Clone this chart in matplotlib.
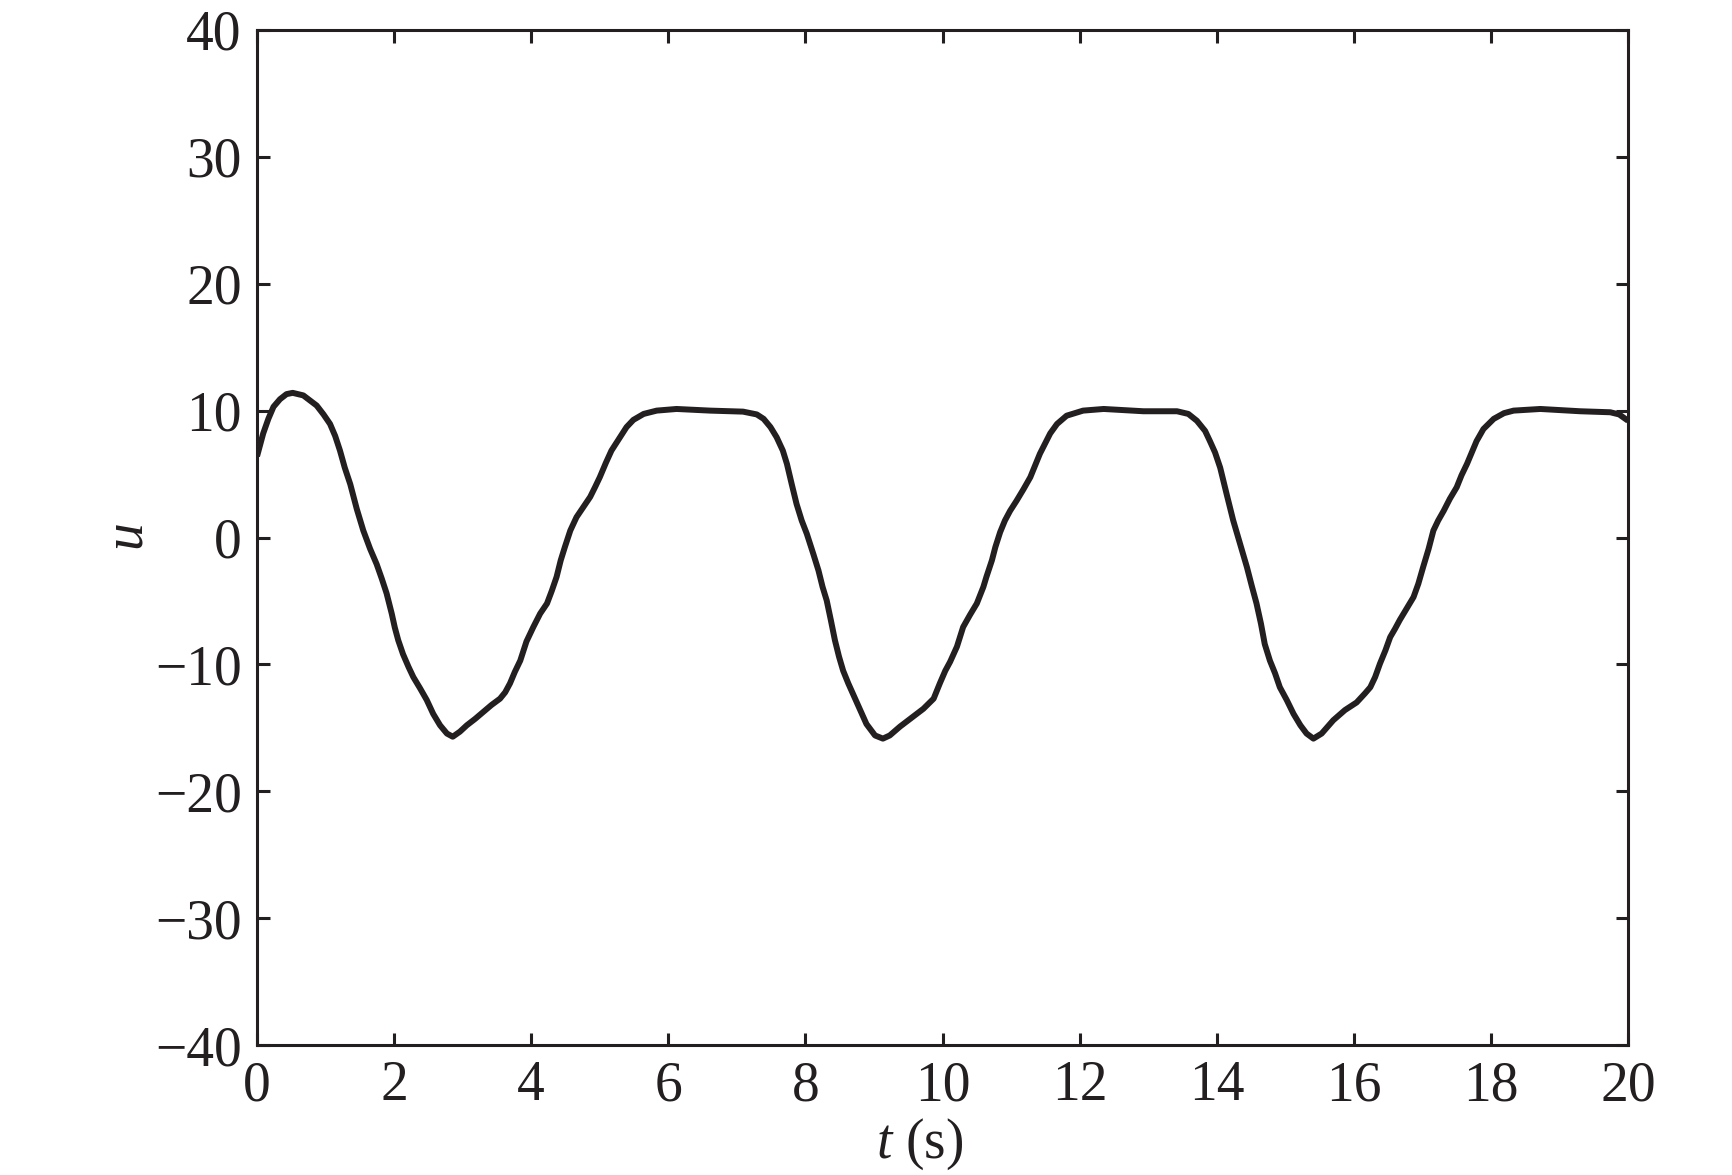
import matplotlib
matplotlib.use("Agg")
import matplotlib.pyplot as plt

# values (t in s, u)
t = [0.00, 0.09, 0.165, 0.24, 0.335, 0.43, 0.52, 0.675, 0.87, 0.97,
     1.065, 1.14, 1.21, 1.28, 1.36, 1.455, 1.55, 1.65, 1.745, 1.82,
     1.89, 1.965, 2.01, 2.06, 2.13, 2.21, 2.28, 2.38, 2.475, 2.57,
     2.67, 2.77, 2.855, 2.96, 3.06, 3.18, 3.30, 3.42, 3.545, 3.62,
     3.69, 3.76, 3.84, 3.93, 4.03, 4.13, 4.23, 4.30, 4.37, 4.43,
     4.49, 4.57, 4.66, 4.76, 4.86, 4.93, 5.00, 5.09, 5.17, 5.295,
     5.39, 5.49, 5.64, 5.83, 6.12, 6.61, 7.09, 7.29, 7.39, 7.49,
     7.58, 7.67, 7.73, 7.80, 7.87, 7.945, 8.02, 8.115, 8.19, 8.25,
     8.31, 8.37, 8.43, 8.49, 8.55, 8.625, 8.70, 8.80, 8.89, 9.015,
     9.13, 9.23, 9.38, 9.55, 9.72, 9.87, 9.96, 10.04, 10.11, 10.21,
     10.30, 10.40, 10.50, 10.595, 10.64, 10.72, 10.77, 10.84, 10.91, 10.985,
     11.08, 11.18, 11.28, 11.35, 11.42, 11.495, 11.57, 11.67, 11.81, 12.05,
     12.35, 12.93, 13.42, 13.585, 13.71, 13.83, 13.90, 13.975, 14.05, 14.145,
     14.24, 14.34, 14.44, 14.51, 14.58, 14.645, 14.70, 14.775, 14.85, 14.92,
     15.02, 15.12, 15.22, 15.31, 15.41, 15.53, 15.70, 15.87, 16.04, 16.16,
     16.24, 16.31, 16.38, 16.46, 16.53, 16.60, 16.67, 16.77, 16.87, 16.94,
     17.01, 17.09, 17.16, 17.23, 17.31, 17.40, 17.50, 17.57, 17.65, 17.72,
     17.79, 17.89, 18.04, 18.19, 18.33, 18.72, 19.30, 19.74, 19.87, 20.00]
u = [6.4, 8.2, 9.35, 10.3, 10.9, 11.3, 11.4, 11.2, 10.4, 9.7,
     8.95, 8.0, 6.85, 5.5, 4.2, 2.25, 0.55, -0.9, -2.1, -3.25,
     -4.4, -6.0, -7.1, -8.1, -9.2, -10.2, -11.0, -11.9, -12.8, -13.9,
     -14.8, -15.45, -15.7, -15.3, -14.8, -14.3, -13.75, -13.2, -12.7, -12.2,
     -11.5, -10.6, -9.7, -8.2, -7.06, -6.0, -5.2, -4.2, -3.1, -1.8,
     -0.76, 0.55, 1.6, 2.4, 3.2, 3.96, 4.75, 5.9, 6.85, 7.9,
     8.7, 9.27, 9.74, 10.0, 10.13, 10.0, 9.92, 9.7, 9.35, 8.7,
     7.9, 6.85, 5.8, 4.2, 2.65, 1.34, 0.29, -1.3, -2.6, -3.9,
     -4.96, -6.5, -8.1, -9.4, -10.5, -11.5, -12.4, -13.6, -14.7, -15.6,
     -15.85, -15.6, -14.9, -14.2, -13.5, -12.7, -11.5, -10.5, -9.8, -8.6,
     -7.06, -6.1, -5.2, -3.9, -3.1, -1.8, -0.76, 0.42, 1.34, 2.1,
     2.9, 3.8, 4.75, 5.67, 6.6, 7.4, 8.2, 8.95, 9.6, 10.0,
     10.13, 9.95, 9.95, 9.74, 9.2, 8.4, 7.6, 6.7, 5.5, 3.4,
     1.34, -0.5, -2.34, -3.8, -5.2, -6.8, -8.4, -9.7, -10.7, -11.8,
     -12.8, -13.9, -14.8, -15.45, -15.85, -15.45, -14.4, -13.6, -13.0, -12.3,
     -11.8, -11.0, -9.95, -8.9, -7.85, -7.2, -6.5, -5.6, -4.7, -3.65,
     -2.34, -0.9, 0.55, 1.34, 2.1, 3.05, 3.96, 4.9, 5.8, 6.7,
     7.6, 8.55, 9.35, 9.8, 10.0, 10.13, 9.95, 9.87, 9.7, 9.2]

xticks = list(range(0, 21, 2))
yticks = list(range(-40, 41, 10))

plt.rcParams['font.family'] = ['Liberation Serif', 'DejaVu Serif']
plt.rcParams['mathtext.fontset'] = 'custom'
plt.rcParams['mathtext.rm'] = 'Liberation Serif'
plt.rcParams['mathtext.it'] = 'Liberation Serif:italic'

ink = '#231f20'
fs = 40

fig = plt.figure(figsize=(17.32, 11.75), dpi=100)
ax = fig.add_axes([0.1484, 0.1106, 0.9400 - 0.1484, 0.9745 - 0.1106])

ax.plot(t, u, color=ink, lw=4.3, solid_joinstyle='round', solid_capstyle='butt')

ax.set_xlim(0, 20)
ax.set_ylim(-40, 40)
ax.set_xticks(xticks)
ax.set_yticks(yticks)
ax.tick_params(direction='in', top=True, right=True, length=9, width=2.2,
               color=ink, labelsize=fs, labelcolor=ink, pad=11)
for s in ax.spines.values():
    s.set_linewidth(2.2)
    s.set_color(ink)

ax.set_xlabel(r'$t$ (s)', fontsize=fs, color=ink)
ax.xaxis.set_label_coords(0.4836, -0.070)
ax.set_ylabel(r'$u$', fontsize=fs, color=ink)
ax.yaxis.set_label_coords(-0.075, 0.5)

fig.savefig('out.png', dpi=100)
